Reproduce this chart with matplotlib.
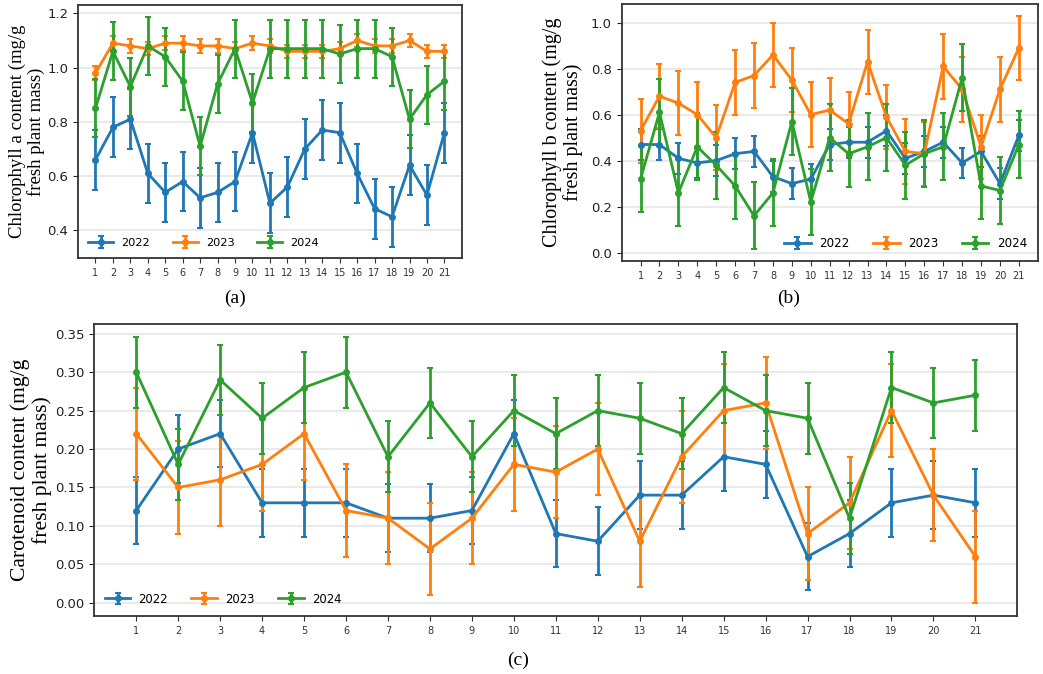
import numpy as np
import matplotlib
matplotlib.use("Agg")
from matplotlib import pyplot as plt

days = list(range(1, 22))
years = ["2022", "2023", "2024"]
colors = ["#1f77b4", "#ff7f0e", "#2ca02c"]

# chlorophyll a
chl_a_2022 = [0.66, 0.78, 0.81, 0.61, 0.54, 0.58, 0.52, 0.54, 0.58, 0.76, 0.50,
              0.56, 0.70, 0.77, 0.76, 0.61, 0.48, 0.45, 0.64, 0.53, 0.76]
chl_a_2023 = [0.98, 1.09, 1.08, 1.07, 1.09, 1.09, 1.08, 1.08, 1.07, 1.09, 1.08,
              1.06, 1.06, 1.06, 1.07, 1.10, 1.08, 1.08, 1.10, 1.06, 1.06]
chl_a_2024 = [0.85, 1.06, 0.93, 1.08, 1.04, 0.95, 0.71, 0.94, 1.07, 0.87, 1.07,
              1.07, 1.07, 1.07, 1.05, 1.07, 1.07, 1.04, 0.81, 0.90, 0.95]
chl_a_err = [0.11, 0.025, 0.107]

# chlorophyll b
chl_b_2022 = [0.47, 0.47, 0.41, 0.39, 0.40, 0.43, 0.44, 0.33, 0.30, 0.32, 0.47,
              0.48, 0.48, 0.53, 0.41, 0.44, 0.48, 0.39, 0.44, 0.30, 0.51]
chl_b_2023 = [0.53, 0.68, 0.65, 0.60, 0.50, 0.74, 0.77, 0.86, 0.75, 0.60, 0.62,
              0.56, 0.83, 0.59, 0.44, 0.43, 0.81, 0.71, 0.46, 0.71, 0.89]
chl_b_2024 = [0.32, 0.61, 0.26, 0.46, 0.38, 0.29, 0.16, 0.26, 0.57, 0.22, 0.50,
              0.43, 0.46, 0.50, 0.38, 0.43, 0.46, 0.76, 0.29, 0.27, 0.47]
chl_b_err = [0.067, 0.14, 0.145]

# carotenoids
car_2022 = [0.12, 0.20, 0.22, 0.13, 0.13, 0.13, 0.11, 0.11, 0.12, 0.22, 0.09,
            0.08, 0.14, 0.14, 0.19, 0.18, 0.06, 0.09, 0.13, 0.14, 0.13]
car_2023 = [0.22, 0.15, 0.16, 0.18, 0.22, 0.12, 0.11, 0.07, 0.11, 0.18, 0.17,
            0.20, 0.08, 0.19, 0.25, 0.26, 0.09, 0.13, 0.25, 0.14, 0.06]
car_2024 = [0.30, 0.18, 0.29, 0.24, 0.28, 0.30, 0.19, 0.26, 0.19, 0.25, 0.22,
            0.25, 0.24, 0.22, 0.28, 0.25, 0.24, 0.11, 0.28, 0.26, 0.27]
car_err = [0.044, 0.06, 0.046]

serif = ["Liberation Serif", "DejaVu Serif"]


def draw_panel(ax, series, errs, ylabel, lab_size, lab_x, legend_loc, leg_size):
    for vals, err, year, c in zip(series, errs, years, colors):
        ax.errorbar(days, vals, yerr=err, color=c, marker="o", markersize=4,
                    linewidth=2, elinewidth=2, capsize=2.5, capthick=1.5,
                    label=year)
    ax.set_xticks(days)
    ax.tick_params(axis="x", labelsize=7, colors="#333333")
    ax.tick_params(axis="y", labelsize=9.5, colors="#222222")
    ax.yaxis.grid(True, color="#e6e6e6", linewidth=1.2)
    ax.set_axisbelow(True)
    for s in ax.spines.values():
        s.set_color("#333333")
        s.set_linewidth(1.3)
    ax.set_ylabel(ylabel, family=serif, fontsize=lab_size, linespacing=1.1)
    ax.yaxis.set_label_coords(lab_x, 0.5)
    ax.legend(loc=legend_loc, ncol=3, frameon=False, fontsize=leg_size,
              columnspacing=2.0, handlelength=2.2, handletextpad=0.7)


fig = plt.figure(figsize=(10.43, 6.74), dpi=100)

ax_a = fig.add_axes([0.0748, 0.617, 0.368, 0.375])
draw_panel(ax_a, [chl_a_2022, chl_a_2023, chl_a_2024], chl_a_err,
           "Chlorophyll a content (mg/g\nfresh plant mass)", 13.5, -0.086,
           "lower left", 8.2)

ax_b = fig.add_axes([0.596, 0.613, 0.399, 0.381])
draw_panel(ax_b, [chl_b_2022, chl_b_2023, chl_b_2024], chl_b_err,
           "Chlorophyll b content (mg/g\nfresh plant mass)", 14.5, -0.093,
           "lower right", 8.6)

ax_c = fig.add_axes([0.0904, 0.086, 0.885, 0.434])
draw_panel(ax_c, [car_2022, car_2023, car_2024], car_err,
           "Carotenoid content (mg/g\nfresh plant mass)", 15.6, -0.046,
           "lower left", 8.4)

fig.text(235 / 1043, 1 - 298 / 674, "(a)", family=serif, fontsize=14,
         ha="center", va="center")
fig.text(789 / 1043, 1 - 298 / 674, "(b)", family=serif, fontsize=14,
         ha="center", va="center")
fig.text(518 / 1043, 1 - 660 / 674, "(c)", family=serif, fontsize=14,
         ha="center", va="center")

fig.savefig("out.png", dpi=100)
